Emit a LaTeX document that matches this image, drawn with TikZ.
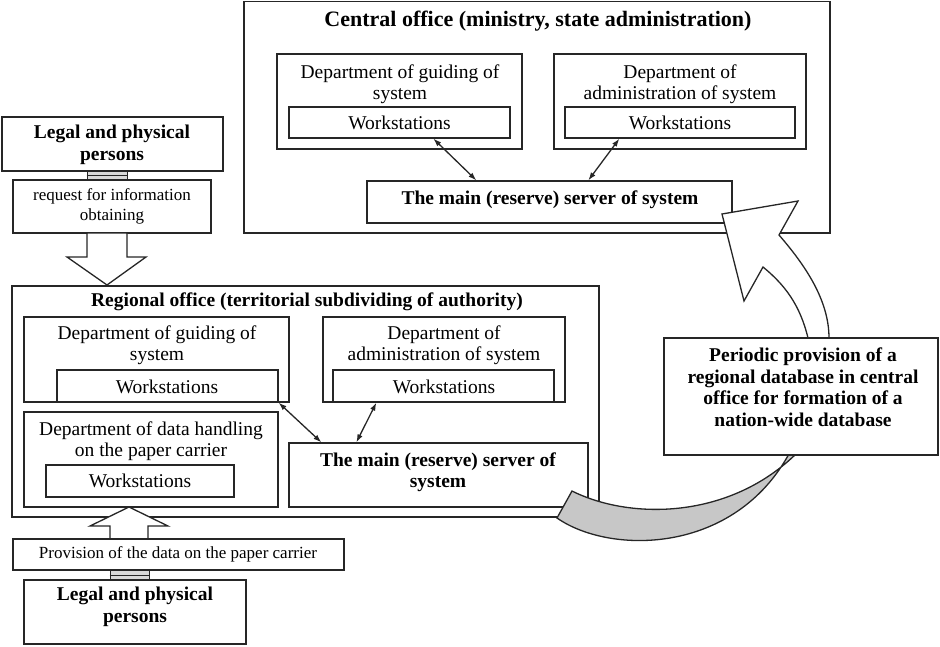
\documentclass[tikz,border=0pt]{standalone}
\usepackage{fontspec}
\setmainfont{Liberation Serif}
\usetikzlibrary{arrows.meta,fit}
\tikzset{
  box/.style={draw=black!85, line width=1.3pt, fill=white, rectangle, inner sep=0pt},
  txt/.style={align=center, inner sep=0pt, font=\fontsize{19.5}{21.5}\selectfont},
  btxt/.style={align=center, inner sep=0pt, font=\fontsize{19.5}{21.5}\selectfont\bfseries},
  ttl/.style={align=center, inner sep=0pt, font=\fontsize{22}{24}\selectfont\bfseries},
  stxt/.style={align=center, inner sep=0pt, font=\fontsize{17}{20}\selectfont},
  link/.style={draw=black!85, line width=1.3pt, {Latex[length=8pt,width=5.5pt]}-{Latex[length=8pt,width=5.5pt]}},
  bigarrow/.style={draw=black!85, line width=1.3pt, fill=white, line join=miter},
  joint/.style={draw=black!85, line width=1pt, fill=black!15, rectangle, inner sep=0pt},
  jline/.style={draw=black!85, line width=1pt},
  backarrow/.style={draw=black!85, line width=1.3pt, fill=black!22},
}
\begin{document}
\begin{tikzpicture}[x=1pt,y=-1pt]
\useasboundingbox (0,0) rectangle (940,646);

% ---------- Central office ----------
\node[box, fit={(244,1.5) (830,233)}] (central) {};
\node[ttl] (centralt) at (538,21) {Central office (ministry, state administration)};
\node[box, fit={(277,54) (522,149)}] (cgd) {};
\node[txt] (cgdt) at (400,84) {Department of guiding of\\system};
\node[box, fit={(289,107) (510,138)}] (cgws) {};
\node[txt] (cgwst) at (cgws.center) {Workstations};
\node[box, fit={(554,54) (806,149)}] (cad) {};
\node[txt] (cadt) at (680,84) {Department of\\administration of system};
\node[box, fit={(565,107) (795,138)}] (caws) {};
\node[txt] (cawst) at (caws.center) {Workstations};
\node[box, fit={(367,181) (732,223)}] (cserver) {};
\node[btxt] (cservert) at (550,200) {The main (reserve) server of system};
\draw[link] ([xshift=145pt]cgws.south west) -- ([xshift=110pt]cserver.north west);
\draw[link] ([xshift=55pt]caws.south west) -- ([xshift=222pt]cserver.north west);

% ---------- Legal persons (top) ----------
\node[box, fit={(2,117) (223,171)}] (legal1) {};
\node[btxt] (legal1t) at (112,145) {Legal and physical\\persons};
\node[joint, fit={(87,171) (127,180)}] (joint1) {};
\draw[jline] (joint1.west) -- (joint1.east);
\node[box, fit={(13,180) (211,233)}] (request) {};
\node[stxt] (requestt) at (112,206) {request for information\\obtaining};
\draw[bigarrow] (87,233) -- (127,233) -- (127,257) -- (146,257) -- (107,285) -- (67,257) -- (87,257) -- cycle;

% ---------- Regional office ----------
\node[box, fit={(12,286) (599,517)}] (regional) {};
\node[btxt] (regionalt) at (307,302) {Regional office (territorial subdividing of authority)};
\node[box, fit={(24,317) (289,402)}] (rgd) {};
\node[txt] (rgdt) at (157,345) {Department of guiding of\\system};
\node[box, fit={(57,370) (278,402)}] (rgws) {};
\node[txt] (rgwst) at (167,387) {Workstations};
\node[box, fit={(323,317) (565,402)}] (rad) {};
\node[txt] (radt) at (444,345) {Department of\\administration of system};
\node[box, fit={(333,370) (554,402)}] (raws) {};
\node[txt] (rawst) at (444,387) {Workstations};
\node[box, fit={(24,412) (278,507)}] (rdd) {};
\node[txt] (rddt) at (151,441) {Department of data handling\\on the paper carrier};
\node[box, fit={(46,465) (234,497)}] (rdws) {};
\node[txt] (rdwst) at (140,481) {Workstations};
\node[box, fit={(289,443) (588,507)}] (rserver) {};
\node[btxt] (rservert) at (438,472) {The main (reserve) server of\\system};
\draw[link] (rgws.south east) -- ([xshift=33pt]rserver.north west);
\draw[link] ([xshift=44pt]raws.south west) -- ([xshift=68pt]rserver.north west);

% ---------- Legal persons (bottom) ----------
\draw[bigarrow] (110,539) -- (110,526) -- (90,526) -- (129,507) -- (168,526) -- (148,526) -- (148,539) -- cycle;
\node[box, fit={(13,539) (344,570)}] (provision) {};
\node[stxt] (provisiont) at (178,554) {Provision of the data on the paper carrier};
\node[joint, fit={(110,570) (149,580)}] (joint2) {};
\draw[jline] (joint2.west) -- (joint2.east);
\node[box, fit={(24,580) (246,644)}] (legal2) {};
\node[btxt] (legal2t) at (135,607) {Legal and physical\\persons};

% ---------- Curved arrow ----------
\draw[backarrow] (572,491) .. controls (630,520) and (730,520) .. (798,452) -- (790,452) .. controls (735,555) and (610,555) .. (557,518) -- cycle;
\draw[bigarrow] (808,350) -- (808,338) .. controls (800,305) and (785,285) .. (763,267) -- (744,301) -- (722,214) -- (798,201) -- (779,235) .. controls (805,265) and (829,300) .. (829,338) -- (829,350) -- cycle;
\node[box, fit={(664,338) (938,455)}] (periodic) {};
\node[btxt] (periodict) at (803,387) {Periodic provision of a\\regional database in central\\office for formation of a\\nation-wide database};
\end{tikzpicture}
\end{document}
